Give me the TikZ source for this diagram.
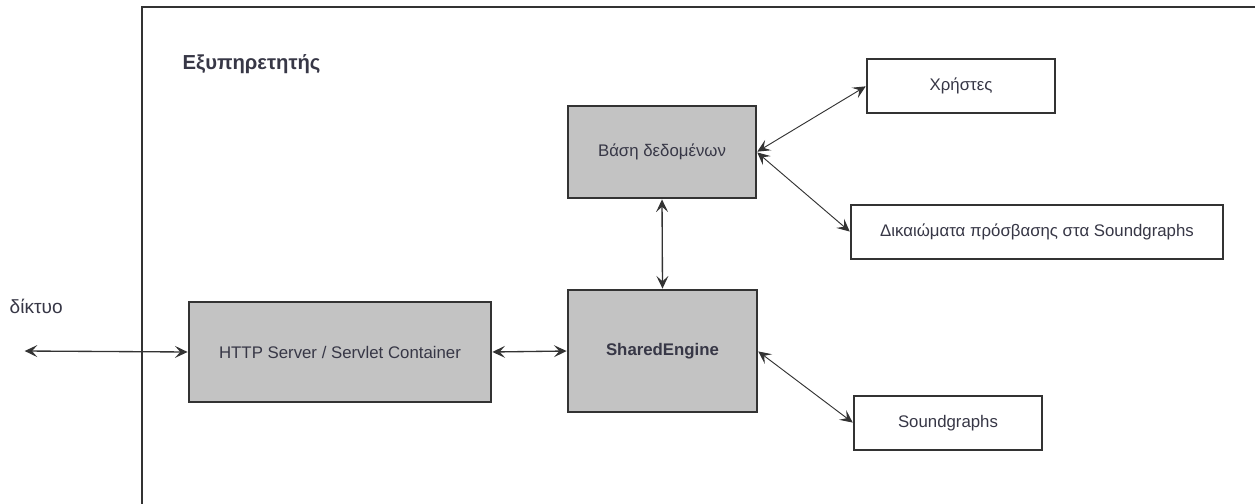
\documentclass[tikz,border=0pt]{standalone}
\usepackage{fontspec}
\setmainfont{Liberation Sans}
\usepackage{xcolor}
\usepackage{tikz}
\usetikzlibrary{arrows.meta, positioning}
\definecolor{boxgray}{RGB}{195, 195, 195}
\definecolor{linegray}{RGB}{51, 51, 51}
\definecolor{textgray}{RGB}{55, 55, 70}

\begin{document}
\begin{tikzpicture}[
          x=0.75pt, y=-0.75pt,
          every node/.style={font=\fontsize{12.6}{15}\selectfont, text=textgray},
          greybox/.style={rectangle, draw=linegray, fill=boxgray, line width=1.1pt, inner sep=0pt},
          whitebox/.style={rectangle, draw=linegray, fill=white, line width=1.1pt, inner sep=0pt, minimum width=141pt, minimum height=40.5pt},
          arr/.style={Stealth-Stealth, line width=1pt, color=linegray, shorten <=0.5pt, shorten >=0.5pt,
                      arrows={[length=9.5pt, width=9pt, inset=4pt]}},
          thinarr/.style={arr, line width=0.7pt}
        ]
          \path[use as bounding box, clip] (0,0) rectangle (1255,503);
          % outer frame runs off the page
          \draw[linegray, line width=1.1pt] (142,7) rectangle (1300,560);
          \node[anchor=west, font=\fontsize{15.2}{18}\selectfont\bfseries] (title) at (178,64) {Εξυπηρετητής};
          \node[anchor=west, font=\fontsize{14.3}{17}\selectfont] (net) at (5,306) {δίκτυο};
          \coordinate (netend) at (24,351);

          \node[greybox, minimum width=226.5pt, minimum height=75pt] (http) at (340,352) {HTTP Server / Servlet Container};
          \node[greybox, minimum width=141.75pt, minimum height=91.5pt, font=\fontsize{12.6}{15}\selectfont\bfseries] (engine) at (662.5,351) {SharedEngine};
          \node[greybox, minimum width=141pt, minimum height=69pt] (db) at (662,152) {Βάση δεδομένων};

          \node[whitebox] (users) at (961,86) {Χρήστες};
          \node[whitebox, minimum width=279pt] (rights) at (1037,232) {Δικαιώματα πρόσβασης στα Soundgraphs};
          \node[whitebox] (sounds) at (948,423) {Soundgraphs};

          \draw[arr] (netend) -- (http.west);
          \draw[arr] (http.east) -- (engine.west);
          \draw[arr] (db.south) -- (engine.north);
          \draw[thinarr] (db.east) -- (users.west);
          \draw[thinarr] (db.east) -- (rights.west);
          \draw[thinarr] (engine.east) -- (sounds.west);
        \end{tikzpicture}
\end{document}
